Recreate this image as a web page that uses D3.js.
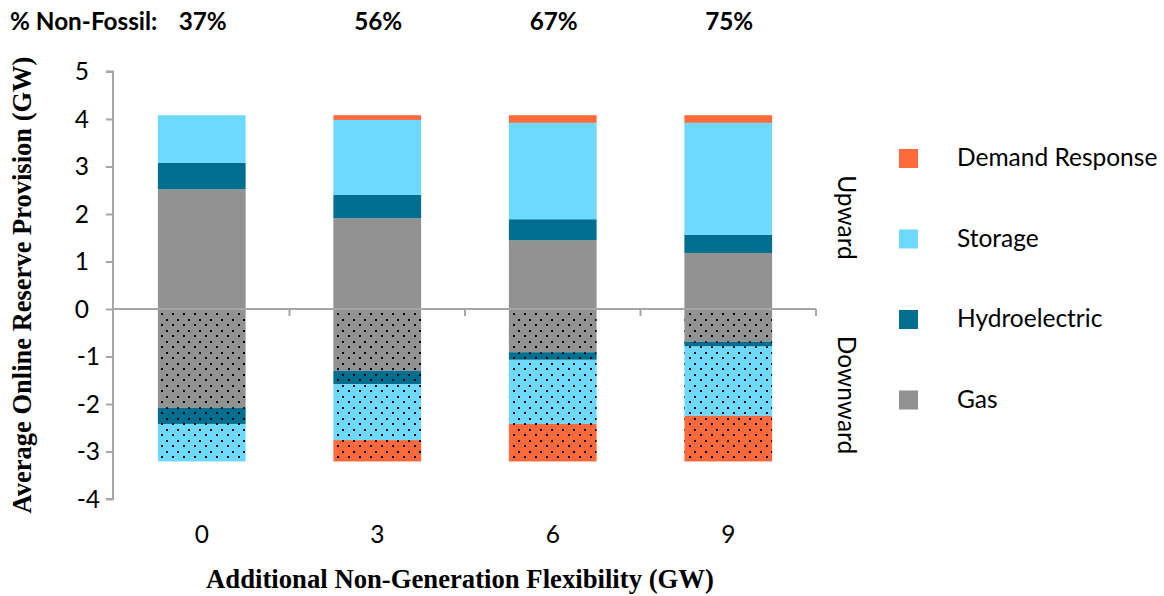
<!DOCTYPE html>
<html><head><meta charset="utf-8">
<script src="https://cdn.jsdelivr.net/npm/d3@7"></script>
<style>
html,body{margin:0;padding:0;background:#fff;}
svg{display:block;}
</style></head>
<body>
<script>
const categories = ["0", "3", "6", "9"];
const nonFossil = ["37%", "56%", "67%", "75%"];
const seriesNames = ["Demand Response", "Storage", "Hydroelectric", "Gas"];
// Upward provision (GW), stacked from zero upward: Gas, Hydro, Storage, DR
const upGas     = [2.52, 1.91, 1.45, 1.18];
const upHydro   = [0.56, 0.49, 0.44, 0.38];
const upStorage = [1.00, 1.58, 2.03, 2.36];
const upDR      = [0.00, 0.10, 0.16, 0.16];
// Downward provision (GW), stacked from zero downward
const downGas     = [-2.08, -1.30, -0.91, -0.69];
const downHydro   = [-0.34, -0.28, -0.16, -0.10];
const downStorage = [-0.79, -1.18, -1.35, -1.46];
const downDR      = [0.00, -0.45, -0.79, -0.96];
const yTicks = [-4, -3, -2, -1, 0, 1, 2, 3, 4, 5];

const colors = {"Demand Response": "#FF6A3C", "Storage": "#6DD9FF", "Hydroelectric": "#006E8E", "Gas": "#929292"};
const keys = ["Gas", "Hydroelectric", "Storage", "Demand Response"];

const upRows = categories.map((c, i) => ({cat: c, "Gas": upGas[i], "Hydroelectric": upHydro[i], "Storage": upStorage[i], "Demand Response": upDR[i]}));
const downRows = categories.map((c, i) => ({cat: c, "Gas": downGas[i], "Hydroelectric": downHydro[i], "Storage": downStorage[i], "Demand Response": downDR[i]}));

const W = 1164, H = 596;
const svg = d3.select("body").append("svg").attr("width", W).attr("height", H);
const SANS = "Lato, 'Open Sans', sans-serif";
const SERIF = "'Liberation Serif', 'Times New Roman', serif";
const FS = 24.5;

const x = d3.scaleBand().domain(categories).range([114, 816]).paddingInner(0.5).paddingOuter(0.25);
const y = d3.scaleLinear().domain([-4, 5]).range([499, 71.5]);

// patterns
const defs = svg.append("defs");
keys.forEach(k => {
  const p = defs.append("pattern").attr("id", "pat-" + k.replace(/\s/g, ""))
    .attr("patternUnits", "userSpaceOnUse").attr("width", 11).attr("height", 11)
    .attr("x", 161).attr("y", 313);
  p.append("rect").attr("width", 11).attr("height", 11).attr("fill", colors[k]);
  p.append("rect").attr("x", 0).attr("y", 0).attr("width", 2).attr("height", 2).attr("fill", "#000");
  p.append("rect").attr("x", 5).attr("y", 6).attr("width", 2).attr("height", 2).attr("fill", "#000");
});

const upStack = d3.stack().keys(keys)(upRows);
const downStack = d3.stack().keys(keys).offset(d3.stackOffsetDiverging)(downRows);

const gBars = svg.append("g");
upStack.forEach(s => {
  gBars.selectAll(null).data(s).enter().append("rect")
    .attr("x", d => x(d.data.cat)).attr("width", x.bandwidth())
    .attr("y", d => y(Math.max(d[0], d[1]))).attr("height", d => Math.abs(y(d[0]) - y(d[1])))
    .attr("fill", colors[s.key]);
});
downStack.forEach(s => {
  gBars.selectAll(null).data(s).enter().append("rect")
    .attr("x", d => x(d.data.cat)).attr("width", x.bandwidth())
    .attr("y", d => y(Math.max(d[0], d[1]))).attr("height", d => Math.abs(y(d[0]) - y(d[1])))
    .attr("fill", "url(#pat-" + s.key.replace(/\s/g, "") + ")");
});

// axes
const axisColor = "#A6A6A6";
const yAxis = d3.axisLeft(y).tickValues(yTicks).tickSize(7).tickFormat(d => d);
const gy = svg.append("g").attr("transform", "translate(113,0)").call(yAxis);
gy.select(".domain").attr("stroke", axisColor).attr("stroke-width", 2).attr("d", `M-7,${y(5)}H0V${y(-4)}H-7`);
gy.selectAll(".tick line").attr("stroke", axisColor).attr("stroke-width", 2);
gy.selectAll(".tick text").attr("font-family", SANS).attr("font-size", FS).attr("fill", "#000")
  .attr("x", d => d >= 0 ? -24 : -13).attr("dy", "0.34em");

// zero line with category boundary ticks
const bounds = [113].concat(categories.map(c => x(c) + x.bandwidth() + x.step() * 0.25));
svg.append("line").attr("x1", 113).attr("x2", 816).attr("y1", y(0)).attr("y2", y(0))
  .attr("stroke", axisColor).attr("stroke-width", 2);
svg.selectAll(null).data(bounds).enter().append("line")
  .attr("x1", d => d).attr("x2", d => d).attr("y1", y(0)).attr("y2", y(0) + 7)
  .attr("stroke", axisColor).attr("stroke-width", 2);

// x category labels
svg.selectAll(null).data(categories).enter().append("text")
  .attr("x", d => x(d) + x.bandwidth() / 2).attr("y", 543)
  .attr("text-anchor", "middle").attr("font-family", SANS).attr("font-size", FS).text(d => d);

// non-fossil row
svg.append("text").attr("x", 10).attr("y", 30).attr("font-family", SANS).attr("font-weight", "bold")
  .attr("font-size", 24.3).text("% Non-Fossil:");
svg.selectAll(null).data(nonFossil).enter().append("text")
  .attr("x", (d, i) => x(categories[i]) + x.bandwidth() / 2 + 1).attr("y", 30)
  .attr("text-anchor", "middle").attr("font-family", SANS).attr("font-weight", "bold")
  .attr("font-size", 24.3).text(d => d);

// axis titles
svg.append("text").attr("x", 460).attr("y", 588).attr("text-anchor", "middle")
  .attr("font-family", SERIF).attr("font-weight", "bold").attr("font-size", 26.7)
  .text("Additional Non-Generation Flexibility (GW)");
svg.append("text").attr("transform", "translate(31,285) rotate(-90)").attr("text-anchor", "middle")
  .attr("font-family", SERIF).attr("font-weight", "bold").attr("font-size", 26.5)
  .text("Average Online Reserve Provision (GW)");

// Upward / Downward
svg.append("text").attr("transform", `translate(838,${(175 + 260) / 2}) rotate(90)`).attr("text-anchor", "middle")
  .attr("font-family", SANS).attr("font-size", FS).text("Upward");
svg.append("text").attr("transform", `translate(838,${(337 + 453) / 2}) rotate(90)`).attr("text-anchor", "middle")
  .attr("font-family", SANS).attr("font-size", FS).text("Downward");

// legend
const lg = svg.append("g");
seriesNames.forEach((n, i) => {
  const yy = 149 + i * 80.5;
  lg.append("rect").attr("x", 899).attr("y", yy).attr("width", 19).attr("height", 19).attr("fill", colors[n]);
  lg.append("text").attr("x", 957).attr("y", yy + 17).attr("font-family", SANS).attr("font-size", FS).text(n);
});
</script>
</body></html>
